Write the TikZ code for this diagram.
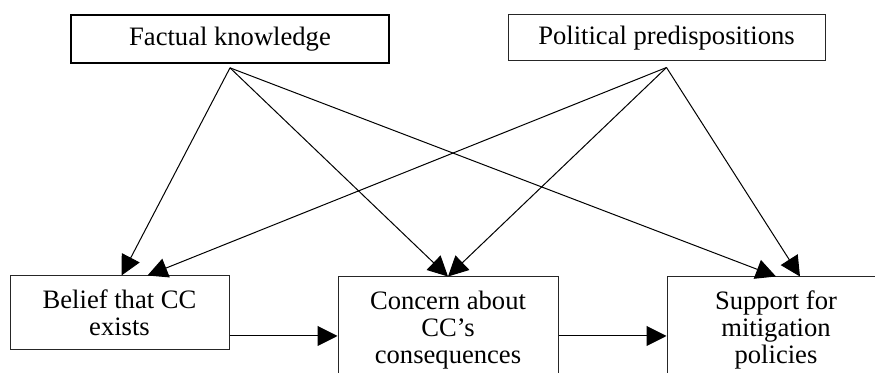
\documentclass[tikz,border=0pt]{standalone}
\usepackage{fontspec}
\setmainfont{Liberation Serif}
\usetikzlibrary{arrows.meta,positioning}

\begin{document}
\begin{tikzpicture}[x=0.5pt,y=-0.5pt,>={Triangle[length=10pt,width=10pt]},
 box/.style={draw=black!85,line width=0.5pt,align=center,inner sep=0pt,font=\fontsize{13.3}{13.6}\selectfont},
 link/.style={->,line width=0.5pt}]
\clip (0,0) rectangle (875,373);
\node[box,draw=black,line width=0.85pt,minimum width=159pt,minimum height=24pt] (fk) at (230,39) {Factual knowledge};
\node[box,minimum width=158.5pt,minimum height=23pt] (pp) at (666.5,38) {Political predispositions};
\node[box,minimum width=109.5pt,minimum height=37pt] (bel) at (119.5,313) {Belief that CC\\exists};
\node[box,minimum width=110pt,minimum height=53pt] (con) at (448,330) {Concern about\\CC's\\consequences};
\node[box,minimum width=109pt,minimum height=53pt] (sup) at (776,330) {Support for\\mitigation\\policies};
\coordinate (fkout) at ([yshift=-2pt]fk.south);
\coordinate (ppout) at ([yshift=-3pt]pp.south);
\coordinate (belout) at ([yshift=-11.5pt]bel.east);
\coordinate (conout) at ([yshift=-3pt]con.east);
\draw[link] (fkout) -- ([xshift=1pt]bel.north);
\draw[link] (fkout) -- (con.north);
\draw[link] (fkout) -- (sup.north);
\draw[link] (ppout) -- ([xshift=14pt]bel.north);
\draw[link] (ppout) -- (con.north);
\draw[link] (ppout) -- ([xshift=12pt]sup.north);
\draw[link] (belout) -- (belout -| con.west);
\draw[link] (conout) -- (conout -| sup.west);
\end{tikzpicture}
\end{document}
